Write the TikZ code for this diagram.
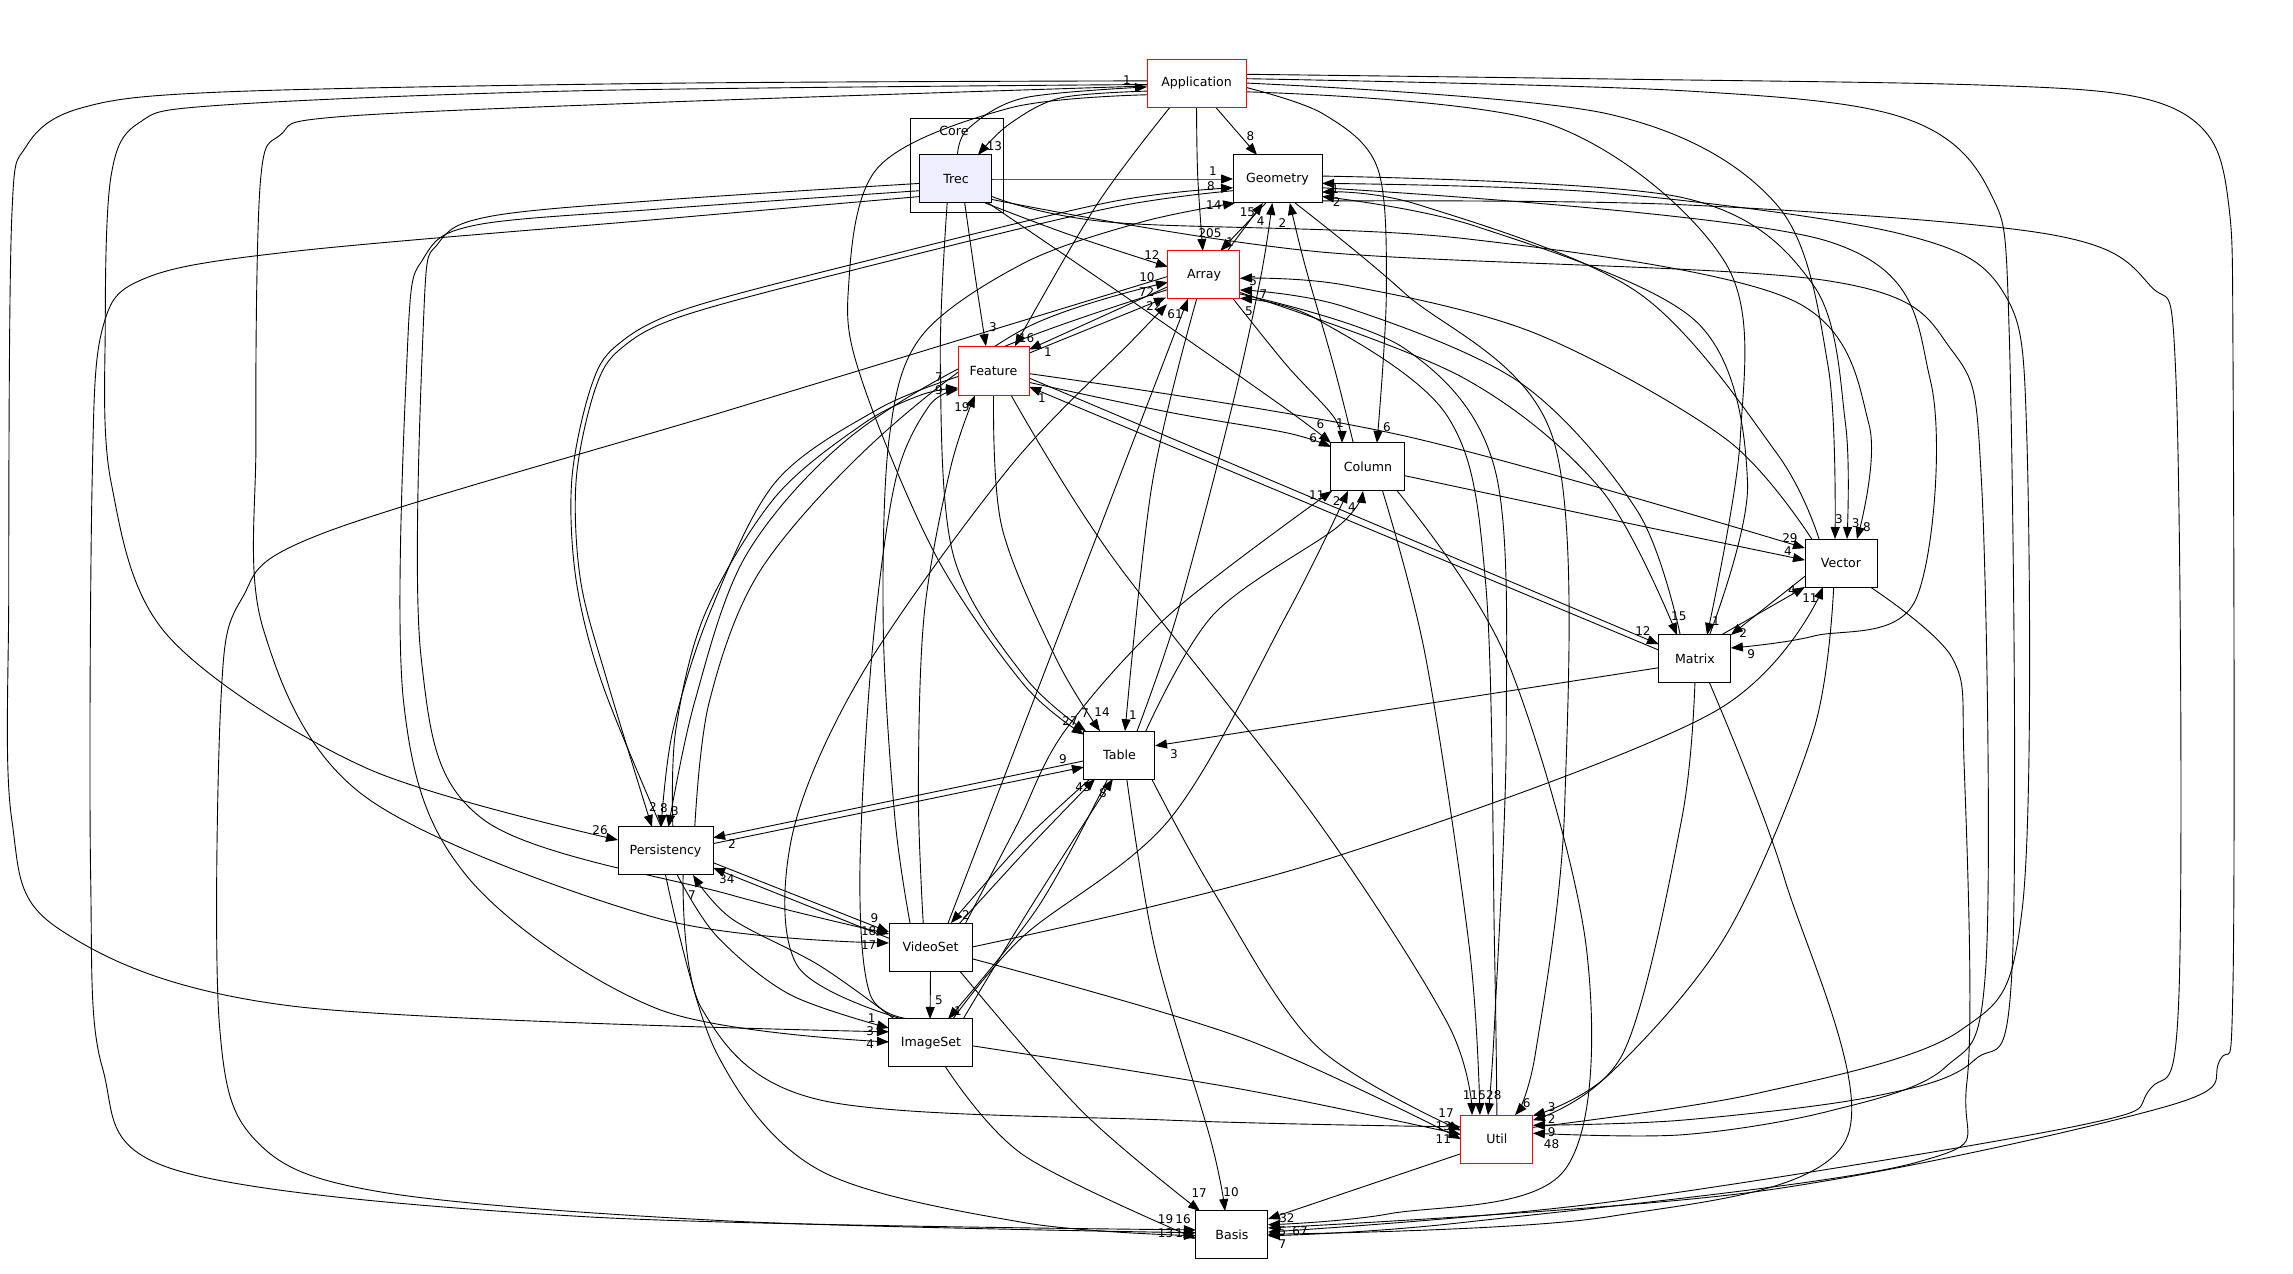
\documentclass[tikz,border=0pt]{standalone}
\usepackage{fontspec}
\setmainfont{DejaVu Sans}
\usetikzlibrary{arrows.meta,calc}
\pgfdeclarelayer{bg}
\pgfsetlayers{bg,main}
\definecolor{trecfill}{HTML}{EEEEFF}
\newcommand{\dedge}[1]{\draw[e] plot[smooth,tension=0.55] coordinates {#1};}
\newcommand{\elab}[3]{\node[lbl] (#1) at (#2) {#3};}
\begin{document}
\begin{tikzpicture}[x=1.4624pt,y=-1.4624pt,
  box/.style={draw=black, fill=white, line width=1pt, minimum width=72pt, minimum height=48pt, inner sep=0pt, font=\fontsize{12.6}{14}\selectfont},
  redbox/.style={box, draw=red},
  e/.style={draw=black, line width=0.9pt, -{Triangle[length=12pt,width=9pt]}},
  lbl/.style={inner sep=0pt, font=\fontsize{12}{13}\selectfont}]
\useasboundingbox (0,0) rectangle (1568,871);
% cluster
\node[draw=black, line width=1pt, minimum width=93pt, minimum height=94pt, inner sep=0pt] (Core) at (654.1,113.5) {};
\node[inner sep=0pt, font=\fontsize{12.6}{14}\selectfont] (CoreLbl) at (652.3,89.6) {Core};
% nodes
\node[redbox, minimum width=99pt] (App) at (818.2,56.8) {Application};
\node[box, fill=trecfill] (Trec) at (653.7,122.4) {Trec};
\node[box, minimum width=89pt] (Geo) at (873.6,122.4) {Geometry};
\node[redbox] (Arr) at (823.3,188) {Array};
\node[redbox, minimum width=71pt, minimum height=49pt] (Fea) at (679.4,253.5) {Feature};
\node[box, minimum width=74pt] (Col) at (935.4,319.3) {Column};
\node[box] (Vec) at (1258.9,385) {Vector};
\node[box] (Mat) at (1159,450.6) {Matrix};
\node[box, minimum width=71pt] (Tab) at (765.5,516.3) {Table};
\node[box, minimum width=95pt] (Per) at (455.1,581.9) {Persistency};
\node[box, minimum width=83pt] (Vid) at (636.3,647.6) {VideoSet};
\node[box, minimum width=84pt] (Img) at (636.6,713.2) {ImageSet};
\node[redbox] (Util) at (1023.6,778.9) {Util};
\node[box] (Bas) at (842.4,844.5) {Basis};
\begin{pgfonlayer}{bg}
% Application / Trec / Geometry
\dedge{($(Trec)+(1,-16.4)$) (662,88) (700,67) ($(App)+(-33.9,2.7)$)}
\dedge{($(App)+(-33.9,5.5)$) (725,67) (690,85) ($(Trec)+(15,-16.4)$)}
\dedge{($(App)+(13,16.4)$) ($(Geo)+(-14,-16.4)$)}
\dedge{($(Trec)+(24.6,0)$) ($(Geo)+(-30.4,0)$)}
\dedge{($(Per)+(-3,-16.4)$) (412,468) (394,397) (391,328) (404,265) (422,236) (470,211) (602,176) (760,138) ($(Geo)+(-30.4,6)$)}
\dedge{($(Geo)+(-30.4,8)$) (760,142) (602,180) (470,215) (425,238) (407,266) (394,328) (397,397) (415,465) ($(Per)+(-9.3,-16.4)$)}
\dedge{($(Vid)+(-14,-16.4)$) (612,560) (604,430) (608,300) (630,230) (700,180) (780,152) ($(Geo)+(-29,16.4)$)}
\dedge{($(Arr)+(16,-16.4)$) ($(Geo)+(-10,16.4)$)}
\dedge{($(Tab)+(12,-16.3)$) (805,420) (842,280) (862,190) ($(Geo)+(-3.6,16.4)$)}
\dedge{($(Col)+(-10,-16.4)$) (912,250) (892,180) ($(Geo)+(8.4,16.4)$)}
\dedge{($(Util)+(24.6,-8)$) (1200,748) (1340,705) (1383,620) (1386,300) (1370,200) (1300,160) (1100,132) ($(Geo)+(30.4,3)$)}
\dedge{($(Vec)+(-15,-16.4)$) (1215,310) (1120,200) (970,140) ($(Geo)+(30.4,9)$)}
\dedge{($(Mat)+(10,-16.4)$) (1195,330) (1160,220) (1010,155) ($(Geo)+(30.4,12)$)}
% Array
\dedge{($(App)+(0,16.4)$) (819,120) ($(Arr)+(-0.8,-16.4)$)}
\dedge{($(Geo)+(-8,16.4)$) ($(Arr)+(11.2,-16.4)$)}
\dedge{($(Trec)+(20,16.4)$) (730,160) ($(Arr)+(-24.6,-5.5)$)}
\dedge{($(Per)+(20,-16.4)$) (485,480) (520,390) (600,300) (700,225) ($(Arr)+(-24.6,5)$)}
\dedge{($(Fea)+(24.3,-12)$) ($(Arr)+(-26,15.5)$)}
\dedge{($(Img)+(-20,-16.4)$) (545,660) (542,570) (590,460) (690,320) (775,232) ($(Arr)+(-25.3,20)$)}
\dedge{($(Vid)+(12,-16.4)$) ($(Arr)+(-11,16.4)$)}
\dedge{($(Vec)+(-20,-16.4)$) (1180,300) (1050,228) (920,195) ($(Arr)+(24.6,2.3)$)}
\dedge{($(Mat)+(-10,-16.4)$) (1120,350) (1040,262) (920,210) ($(Arr)+(24.6,10.3)$)}
\dedge{($(Util)+(0,-16.4)$) (1022,650) (1016,400) (990,285) (900,218) ($(Arr)+(24.6,16)$)}
% Feature
\dedge{($(App)+(-18,16.4)$) (750,140) ($(Fea)+(14.6,-16.8)$)}
\dedge{($(Trec)+(6,16.4)$) (667,190) ($(Fea)+(-5.2,-16.8)$)}
\dedge{($(Arr)+(-24.6,8)$) ($(Fea)+(24.3,-14.5)$)}
\dedge{($(Mat)+(-24.6,-6)$) ($(Fea)+(24.3,11)$)}
\dedge{($(Per)+(5,-16.4)$) (462,500) (482,420) (530,340) (590,290) (630,270) ($(Fea)+(-24.3,11.8)$)}
\dedge{($(Img)+(-15,-16.4)$) (595,680) (588,600) (596,450) (612,330) (635,278) ($(Fea)+(-24.3,13)$)}
\dedge{($(Vid)+(-5,-16.4)$) (628,540) (632,420) (650,320) ($(Fea)+(-12.7,16.8)$)}
% Column
\dedge{($(Trec)+(22,16.4)$) (780,210) (880,280) ($(Col)+(-25.3,-16.4)$)}
\dedge{($(Fea)+(24.3,8)$) (800,282) (880,296) ($(Col)+(-25.3,-13.7)$)}
\dedge{($(Arr)+(20,16.4)$) (880,250) (912,285) ($(Col)+(-17.7,-16.4)$)}
\dedge{($(App)+(33.9,3)$) (905,78) (942,115) (948,200) ($(Col)+(6.2,-16.4)$)}
\dedge{($(Vid)+(24,-16.4)$) (695,565) (728,500) (800,420) ($(Col)+(-24.6,16.4)$)}
\dedge{($(Img)+(15,-16.4)$) (700,640) (800,560) (880,420) ($(Col)+(-13.6,16.4)$)}
\dedge{($(Tab)+(18,-16.3)$) (830,420) (915,360) ($(Col)+(-3.4,16.4)$)}
% Vector
\dedge{($(App)+(33.9,0)$) (1100,78) (1215,140) (1250,250) ($(Vec)+(-4.1,-16.4)$)}
\dedge{($(Geo)+(30.4,-2)$) (1150,135) (1240,195) (1262,290) ($(Vec)+(4.1,-16.4)$)}
\dedge{($(Trec)+(24.6,12)$) (760,152) (1000,163) (1225,205) (1278,290) ($(Vec)+(10.9,-16.4)$)}
\dedge{($(Fea)+(24.3,2)$) (960,298) ($(Vec)+(-24.6,-10.2)$)}
\dedge{($(Col)+(25.3,6)$) (1100,355) ($(Vec)+(-24.6,-2)$)}
\dedge{($(Mat)+(18,-16.4)$) ($(Vec)+(-24.6,16.4)$)}
\dedge{($(Vid)+(28.4,0)$) (900,590) (1170,488) ($(Vec)+(-12.3,16.4)$)}
% Matrix
\dedge{($(Arr)+(24.6,12)$) (1000,258) (1095,335) ($(Mat)+(-12.3,-16.4)$)}
\dedge{($(App)+(33.9,6)$) (1060,85) (1180,180) (1190,300) ($(Mat)+(8.3,-16.4)$)}
\dedge{($(Fea)+(24.3,5)$) ($(Mat)+(-24.6,-10)$)}
\dedge{($(Vec)+(-24.6,9)$) ($(Mat)+(24.6,-16.4)$)}
\dedge{($(Geo)+(30.4,6)$) (1250,165) (1320,260) (1310,410) (1240,435) ($(Mat)+(24.6,-7.5)$)}
% Table
\dedge{($(App)+(-33.9,8)$) (690,74) (600,115) (580,200) (590,262) (640,380) (700,468) ($(Tab)+(-24.3,-14)$)}
\dedge{($(Trec)+(-6,16.4)$) (643,250) (652,380) (700,462) ($(Tab)+(-22.9,-16.3)$)}
\dedge{($(Fea)+(0,16.8)$) (685,360) (722,450) ($(Tab)+(-13.3,-16.3)$)}
\dedge{($(Arr)+(-5,16.4)$) (788,330) ($(Tab)+(3.8,-16.3)$)}
\dedge{($(Per)+(32.5,-5)$) ($(Tab)+(-24.3,8.2)$)}
\dedge{($(Tab)+(-24.3,4)$) ($(Per)+(32.5,-9)$)}
\dedge{($(Mat)+(-24.6,6)$) ($(Tab)+(24.3,-6.3)$)}
\dedge{($(Vid)+(20,-16.4)$) (705,578) ($(Tab)+(-16.7,16.3)$)}
\dedge{($(Tab)+(-20,16.3)$) (700,575) ($(Vid)+(14,-16.4)$)}
\dedge{($(Img)+(22,-16.4)$) (705,620) ($(Tab)+(-4.5,16.3)$)}
\dedge{($(Tab)+(-8,16.3)$) (710,620) ($(Img)+(11.7,-16.4)$)}
% Persistency / VideoSet / ImageSet
\dedge{($(App)+(-33.9,1)$) (400,62) (150,72) (95,84) (76,120) (72,220) (76,330) (115,435) (250,525) ($(Per)+(-32.5,-7.5)$)}
\dedge{($(Vid)+(-28.4,-6)$) ($(Per)+(32.5,11.6)$)}
\dedge{($(Per)+(32.5,8)$) ($(Vid)+(-28.4,-10.3)$)}
\dedge{($(Img)+(-25,-16.4)$) (560,660) (500,628) ($(Per)+(18.8,16.4)$)}
\dedge{($(Fea)+(-24.3,4)$) (600,280) (530,330) (485,420) (460,500) ($(Per)+(-3,-16.4)$)}
\dedge{($(Arr)+(-24.6,10)$) (680,240) (580,300) (510,380) (475,480) ($(Per)+(2,-16.4)$)}
\dedge{($(App)+(-33.9,2)$) (450,70) (230,80) (192,92) (178,125) (175,300) (180,430) (250,545) (450,628) ($(Vid)+(-28.4,-2.8)$)}
\dedge{($(Trec)+(-24.6,3)$) (450,137) (335,148) (300,166) (290,210) (288,450) (330,560) (500,612) ($(Vid)+(-28.4,-9)$)}
\dedge{($(Vid)+(0,16.4)$) ($(Img)+(-0.6,-16.4)$)}
\dedge{($(App)+(-33.9,-1.5)$) (450,57) (150,63) (55,74) (18,100) (8,150) (6,400) (8,560) (40,635) (200,688) ($(Img)+(-28.7,-7.6)$)}
\dedge{($(Trec)+(-24.6,8)$) (450,143) (325,154) (290,176) (279,230) (276,480) (320,600) (450,690) ($(Img)+(-28.7,-0.7)$)}
\dedge{($(Per)+(8,16.4)$) (490,640) (540,680) ($(Img)+(-28.7,-10.2)$)}
% Util
\dedge{($(Fea)+(12,16.8)$) (760,380) (900,560) (990,700) ($(Util)+(-17,-16.4)$)}
\dedge{($(Col)+(10,16.4)$) (975,450) (1005,650) ($(Util)+(-11.6,-16.4)$)}
\dedge{($(Arr)+(24.6,13)$) (960,238) (1022,320) (1030,500) (1022,700) ($(Util)+(-6.1,-16.4)$)}
\dedge{($(Geo)+(12,16.4)$) (960,200) (1062,300) (1070,550) (1050,720) ($(Util)+(12.4,-16.4)$)}
\dedge{($(Vec)+(-5,16.4)$) (1240,500) (1180,640) (1100,735) ($(Util)+(24.6,-16)$)}
\dedge{($(Mat)+(0,16.4)$) (1150,560) (1110,720) ($(Util)+(24.6,-12.9)$)}
\dedge{($(App)+(33.9,-3)$) (1150,62) (1300,80) (1360,130) (1374,230) (1376,660) (1350,725) (1280,750) (1150,766) ($(Util)+(24.6,-9.4)$)}
\dedge{($(Trec)+(24.6,14)$) (900,172) (1250,192) (1335,240) (1355,330) (1358,660) (1330,730) (1250,760) (1150,776) ($(Util)+(24.6,-4)$)}
\dedge{($(Per)+(12,16.4)$) (480,690) (560,752) (800,766) ($(Util)+(-24.6,-8.3)$)}
\dedge{($(Tab)+(22,16.3)$) (830,610) (900,715) ($(Util)+(-24.6,-5.9)$)}
\dedge{($(Img)+(28.7,2)$) (850,745) ($(Util)+(-24.6,-3)$)}
\dedge{($(Vid)+(28.4,8)$) (850,710) ($(Util)+(-24.6,0)$)}
% Basis
\dedge{($(Vid)+(20,16.4)$) (740,760) ($(Bas)+(-21.8,-16.4)$)}
\dedge{($(Tab)+(5,16.3)$) (790,650) (828,780) ($(Bas)+(-4.7,-16.4)$)}
\dedge{($(Trec)+(-24.6,12)$) (450,150) (200,172) (100,190) (70,225) (63,330) (62,600) (70,730) (120,800) (400,832) ($(Bas)+(-24.6,-3.5)$)}
\dedge{($(Arr)+(-24.6,1)$) (500,280) (220,365) (165,410) (151,480) (150,700) (175,780) (260,815) (500,835) ($(Bas)+(-24.6,-1.5)$)}
\dedge{($(Per)+(0,16.4)$) (490,720) (560,800) (700,836) ($(Bas)+(-24.6,0.5)$)}
\dedge{($(Img)+(10,16.4)$) (700,790) ($(Bas)+(-24.6,2.5)$)}
\dedge{($(Util)+(-24.6,10)$) ($(Bas)+(24.6,-10.9)$)}
\dedge{($(App)+(33.9,-6)$) (1100,54) (1350,58) (1460,66) (1508,90) (1524,140) (1527,250) (1527,670) (1518,725) (1480,757) (1200,815) ($(Bas)+(24.6,-4.8)$)}
\dedge{($(Geo)+(30.4,15)$) (1150,140) (1400,160) (1470,195) (1488,260) (1490,680) (1470,745) (1420,770) (1100,822) ($(Bas)+(24.6,-2)$)}
\dedge{($(Vec)+(20,16.4)$) (1335,450) (1343,520) (1345,740) (1310,795) (1000,836) ($(Bas)+(24.6,0.5)$)}
\dedge{($(Mat)+(10,16.4)$) (1220,600) (1262,780) (1100,832) ($(Bas)+(24.6,-0.5)$)}
\dedge{($(Col)+(20,16.4)$) (1030,450) (1085,650) (1070,800) (950,830) ($(Bas)+(24.6,-7)$)}
\end{pgfonlayer}
% labels
\elab{l1}{770.6,54.5}{1}
\elab{l2}{680,100}{13}
\elab{l3}{855,93}{8}
\elab{l4}{829.5,117}{1}
\elab{l5}{828,127}{8}
\elab{l6}{446.5,552}{2}
\elab{l7}{830,140}{14}
\elab{l8}{853,145}{15}
\elab{l9}{862,151}{4}
\elab{l10}{877,152.5}{2}
\elab{l12}{913,129}{1}
\elab{l13}{914,138.5}{2}
\elab{l14}{827.4,159.5}{205}
\elab{l15}{841,165.5}{1}
\elab{l16}{787.7,174.4}{12}
\elab{l17}{784.3,189.4}{10}
\elab{l18}{784,200}{72}
\elab{l19}{789,209}{22}
\elab{l20}{803.5,214.5}{61}
\elab{l21}{857,192}{5}
\elab{l22}{864,201}{7}
\elab{l23}{854,213}{5}
\elab{l24}{702,231}{16}
\elab{l25}{679,223.6}{3}
\elab{l26}{716.6,240.7}{1}
\elab{l27}{712.5,272}{1}
\elab{l28}{642,258}{7}
\elab{l29}{642,267}{9}
\elab{l30}{657.8,278.5}{19}
\elab{l31}{903,290}{6}
\elab{l32}{898,299.5}{6}
\elab{l33}{916.3,289.4}{1}
\elab{l34}{948.4,292}{6}
\elab{l35}{900.5,338.5}{11}
\elab{l36}{914,342.5}{2}
\elab{l37}{924.5,346.7}{4}
\elab{l38}{1257.5,355}{3}
\elab{l39}{1269,357.6}{3}
\elab{l40}{1276.7,360.3}{8}
\elab{l41}{1224,368}{29}
\elab{l42}{1222.6,376.8}{4}
\elab{l43}{1225.4,403.4}{4}
\elab{l44}{1237.7,409}{11}
\elab{l45}{1148,421.2}{15}
\elab{l46}{1173.4,424.6}{1}
\elab{l47}{1123.5,431.5}{12}
\elab{l48}{1192,432.8}{2}
\elab{l49}{1197.4,447.2}{9}
\elab{l50}{731.7,493}{27}
\elab{l51}{742,487.6}{7}
\elab{l52}{753.6,487}{14}
\elab{l53}{774.8,489}{1}
\elab{l54}{726.9,519}{9}
\elab{l55}{500.5,577}{2}
\elab{l56}{802.8,515.6}{3}
\elab{l57}{740.6,538}{43}
\elab{l58}{660.6,625.7}{2}
\elab{l59}{754.2,542.3}{8}
\elab{l60}{655,691.3}{1}
\elab{l61}{410.3,567.5}{26}
\elab{l62}{497,601}{34}
\elab{l63}{598,628}{9}
\elab{l64}{473.2,612}{7}
\elab{l65}{454,552.5}{8}
\elab{l66}{461.6,554.6}{3}
\elab{l67}{594,646}{17}
\elab{l68}{594,637}{18}
\elab{l69}{642,683.8}{5}
\elab{l70}{595,705}{3}
\elab{l71}{595,714}{4}
\elab{l72}{596,696}{1}
\elab{l73}{1005.5,749}{11}
\elab{l74}{1013.6,749}{5}
\elab{l75}{1021.5,749}{28}
\elab{l76}{1044,754.3}{6}
\elab{l77}{1061,757}{3}
\elab{l78}{1061,765.5}{2}
\elab{l79}{1061,774}{9}
\elab{l80}{1061,782.5}{48}
\elab{l81}{988.8,761}{17}
\elab{l82}{987,770}{13}
\elab{l83}{987,779}{11}
\elab{l84}{820,815.8}{17}
\elab{l85}{841.8,815}{10}
\elab{l86}{797,834}{19}
\elab{l87}{809,834}{16}
\elab{l88}{797,843}{13}
\elab{l89}{809,843}{14}
\elab{l90}{880,833}{32}
\elab{l91}{877,842}{5}
\elab{l92}{889,842}{67}
\elab{l93}{877,851}{7}
\end{tikzpicture}
\end{document}
